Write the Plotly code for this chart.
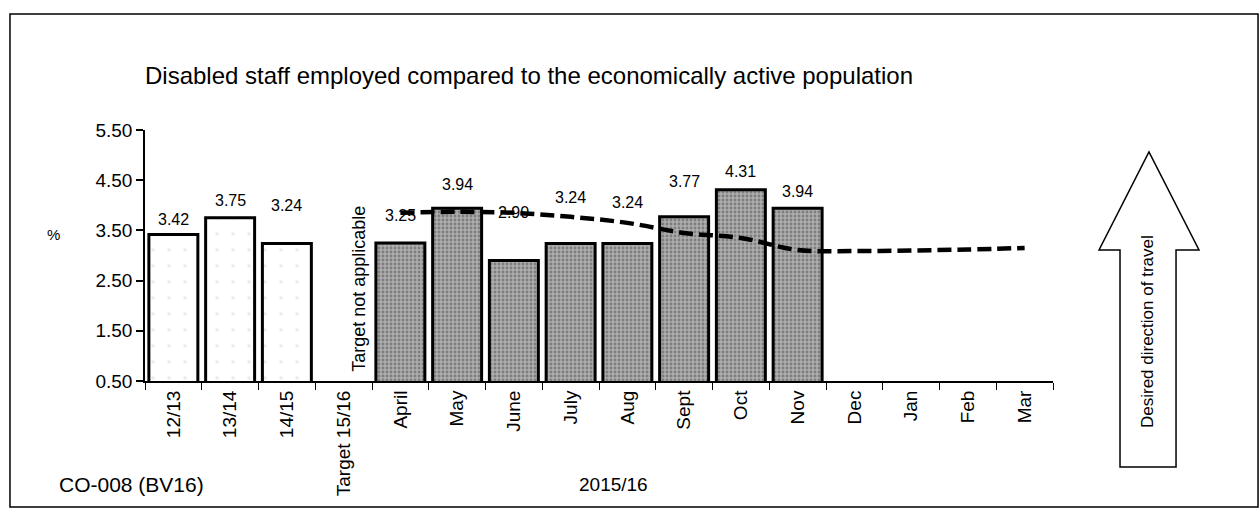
import plotly.graph_objects as go

# ---- data ----
categories = ["12/13", "13/14", "14/15", "Target 15/16", "April", "May", "June",
              "July", "Aug", "Sept", "Oct", "Nov", "Dec", "Jan", "Feb", "Mar"]
annual_cats = ["12/13", "13/14", "14/15"]
annual_values = [3.42, 3.75, 3.24]
month_cats = ["April", "May", "June", "July", "Aug", "Sept", "Oct", "Nov",
              "Dec", "Jan", "Feb", "Mar"]
month_values = [3.25, 3.94, 2.90, 3.24, 3.24, 3.77, 4.31, 3.94, None, None, None, None]
target_values = [3.85, 3.87, 3.85, 3.77, 3.65, 3.45, 3.35, 3.11, 3.09, 3.10, 3.12, 3.15]
y_ticks = [0.5, 1.5, 2.5, 3.5, 4.5, 5.5]

# label lift above bar top (px), styling only
annual_lift = [15, 17, 38]
month_lift = [27, 24, 48, 46, 41, 35, 18, 17]

FONT = "Arial, Liberation Sans, sans-serif"

fig = go.Figure()
fig.add_trace(go.Bar(
    x=annual_cats, y=annual_values,
    marker=dict(color="white", line=dict(color="black", width=3),
                pattern=dict(shape=".", fgcolor="#d8d8d8", bgcolor="white",
                             size=16, solidity=0.04)),
    showlegend=False, hoverinfo="x+y"))
fig.add_trace(go.Bar(
    x=month_cats, y=month_values,
    marker=dict(color="#a8a8a8", line=dict(color="black", width=3),
                pattern=dict(shape=".", fgcolor="#505050", bgcolor="#adadad",
                             size=4, solidity=0.4)),
    showlegend=False, hoverinfo="x+y"))
fig.add_trace(go.Scatter(
    x=month_cats, y=target_values, mode="lines",
    line=dict(color="black", width=4.5, dash="14px,6px", shape="spline"),
    showlegend=False, hoverinfo="x+y"))

# value labels
for c, v, lift in zip(annual_cats, annual_values, annual_lift):
    fig.add_annotation(x=c, y=v, text=f"{v:.2f}", showarrow=False,
                       xanchor="center", yanchor="middle", yshift=lift,
                       font=dict(family=FONT, size=16, color="black"))
for c, v, lift in zip(month_cats, month_values, month_lift):
    if v is None:
        continue
    fig.add_annotation(x=c, y=v, text=f"{v:.2f}", showarrow=False,
                       xanchor="center", yanchor="middle", yshift=lift,
                       font=dict(family=FONT, size=16, color="black"))

fig.add_annotation(x="Target 15/16", y=2.33, text="Target not applicable",
                   textangle=-90, showarrow=False, xshift=15,
                   xanchor="center", yanchor="middle",
                   font=dict(family=FONT, size=18, color="black"))

# texts in paper coords
def paper_text(x, y, text, size, angle=0):
    fig.add_annotation(xref="paper", yref="paper", x=x, y=y, text=text,
                       textangle=angle, showarrow=False,
                       xanchor="center", yanchor="middle",
                       font=dict(family=FONT, size=size, color="black"))

paper_text(0.4229, 1.219,
           "Disabled staff employed compared to the economically active population", 24)
paper_text(-0.1013, 0.5817, "%", 15)
paper_text(-0.0154, -0.414, "CO-008 (BV16)", 21)
paper_text(0.5165, -0.414, "2015/16", 19)
paper_text(1.1035, 0.199, "Desired direction of travel", 17, angle=-90)

# outer border and arrow
fig.add_shape(type="rect", xref="paper", yref="paper",
              x0=-0.1487, x1=1.2258, y0=-0.502, y1=1.462,
              line=dict(color="black", width=1.5), fillcolor="rgba(0,0,0,0)")
fig.add_shape(type="path", xref="paper", yref="paper",
              path="M 1.0738 -0.3426 L 1.0738 0.5219 L 1.0507 0.5219 L 1.1057 0.9124 "
                   "L 1.1608 0.5219 L 1.1355 0.5219 L 1.1355 -0.3426 Z",
              line=dict(color="black", width=1.5), fillcolor="white")

fig.update_layout(
    width=1260, height=522,
    margin=dict(l=145, r=207, t=130, b=141),
    paper_bgcolor="white", plot_bgcolor="white",
    barmode="overlay", bargap=0.137,
    font=dict(family=FONT, color="black"),
    xaxis=dict(type="category", categoryorder="array", categoryarray=categories,
               range=[-0.5, 15.5], tickangle=-90, tickson="boundaries",
               ticks="outside", ticklen=7, tickcolor="black", tickwidth=1,
               showline=True, linecolor="black", linewidth=2, showgrid=False,
               automargin=False,
               tickfont=dict(family=FONT, size=19, color="black")),
    yaxis=dict(range=[0.5, 5.5], tickvals=y_ticks, tickformat=".2f",
               ticks="outside", ticklen=7, tickcolor="black", tickwidth=1.5,
               showline=True, linecolor="black", linewidth=1.5, showgrid=False,
               zeroline=False, automargin=False,
               tickfont=dict(family=FONT, size=19, color="black")),
)

fig.write_html("out.html", config={"displayModeBar": False},
               post_script="document.body.style.margin='0px';document.body.style.overflow='hidden';")
